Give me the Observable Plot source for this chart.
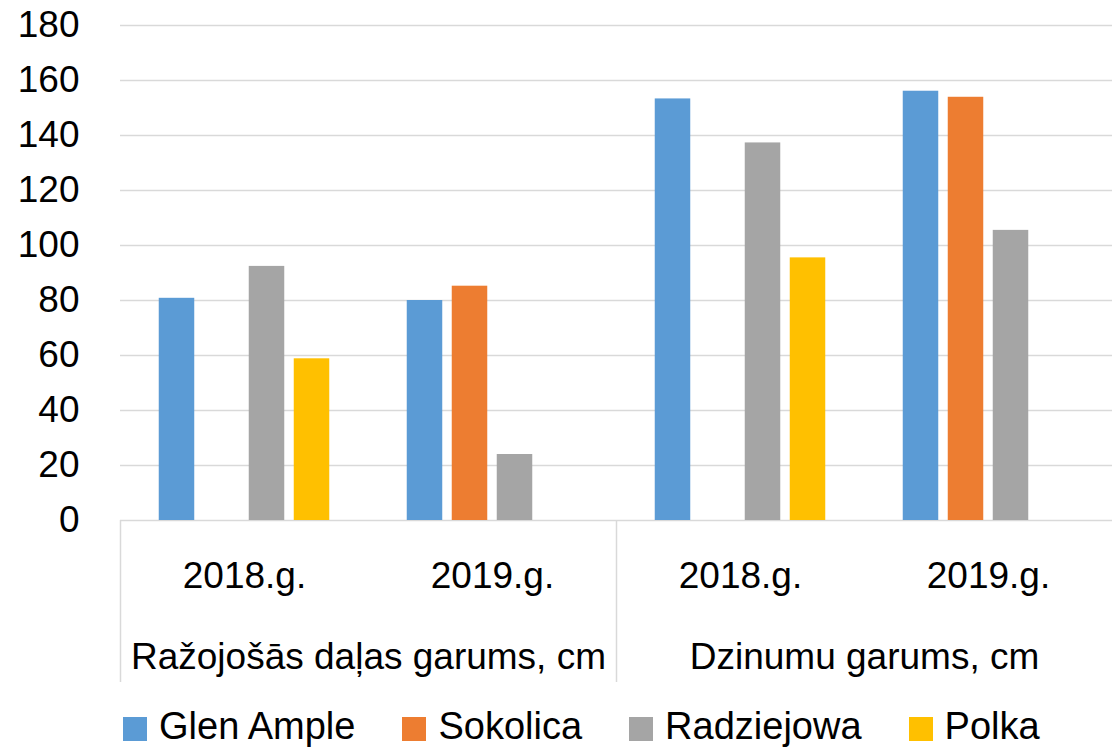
<!DOCTYPE html>
<html><head><meta charset="utf-8">
<script src="https://cdn.jsdelivr.net/npm/d3@7"></script>
<script src="https://cdn.jsdelivr.net/npm/@observablehq/plot@0.6"></script>
<style>
body{margin:0;background:#fff;font-family:"Liberation Sans",Arial,sans-serif;}
#chart{position:relative;width:1112px;height:749px;overflow:hidden;}
#legend{position:absolute;left:123px;top:705px;display:flex;align-items:center;font-size:38px;line-height:42px;color:#000;white-space:nowrap;}
.item{display:flex;align-items:center;margin-right:47px;}
.sw{width:24px;height:24px;margin-right:12px;transform:translateY(3px);}
</style></head><body><div id="chart"></div>
<script>
const groups = ["Ražojošās daļas garums, cm", "Dzinumu garums, cm"];
const years = ["2018.g.", "2019.g."];
const series = ["Glen Ample", "Sokolica", "Radziejowa", "Polka"];
const colors = ["#5B9BD5", "#ED7D31", "#A5A5A5", "#FFC000"];
// values per category: [group1 2018, group1 2019, group2 2018, group2 2019]
const glenAmple = [80.8, 80, 153.3, 156.1];
const sokolica = [null, 85.2, null, 153.9];
const radziejowa = [92.4, 24, 137.3, 105.5];
const polka = [58.8, null, 95.5, null];
const yTicks = [0, 20, 40, 60, 80, 100, 120, 140, 160, 180];

const values = [glenAmple, sokolica, radziejowa, polka];
const cats = groups.flatMap(g => years.map(y => g + "|" + y));
const data = [];
cats.forEach((c, i) => series.forEach((s, j) => {
  const v = values[j][i];
  if (v != null) data.push({cat: c, series: s, value: v});
}));
const catInfo = cats.map(c => ({cat: c, group: c.split("|")[0], year: c.split("|")[1]}));
const groupStarts = catInfo.filter((d, i) => i % years.length === 0);

const plot = Plot.plot({
  width: 1112, height: 700,
  marginLeft: 120, marginRight: 0, marginTop: 25, marginBottom: 180,
  style: {fontFamily: "'Liberation Sans', Arial, sans-serif", fontSize: "37px", color: "#000", background: "#fff", overflow: "visible"},
  fx: {domain: cats, padding: 0, round: false, axis: null},
  x: {domain: series, paddingInner: 0.211, paddingOuter: 0.861, round: false, axis: null},
  y: {domain: [0, 180], ticks: yTicks, tickSize: 0, tickPadding: 41, label: null},
  color: {domain: series, range: colors},
  marks: [
    Plot.ruleY(yTicks, {stroke: "#d9d9d9", strokeWidth: 1.5}),
    Plot.barY(data, {fx: "cat", x: "series", y: "value", fill: "series"}),
    Plot.ruleX(groupStarts, {fx: "cat", x: null, y1: 0, y2: 0, insetBottom: -162, dx: -124, stroke: "#d9d9d9", strokeWidth: 1.5}),
    Plot.text(catInfo, {fx: "cat", text: "year", frameAnchor: "bottom", lineAnchor: "top", dy: 41, fontSize: 37, fill: "#000"}),
    Plot.text(groupStarts, {fx: "cat", text: "group", frameAnchor: "bottom-right", textAnchor: "middle", lineAnchor: "top", dy: 122, fontSize: 37, fill: "#000"})
  ]
});
const chart = document.getElementById("chart");
chart.appendChild(plot);

const legend = document.createElement("div");
legend.id = "legend";
series.forEach((s, i) => {
  const item = document.createElement("div");
  item.className = "item";
  const sw = document.createElement("span");
  sw.className = "sw";
  sw.style.background = colors[i];
  const t = document.createElement("span");
  t.textContent = s;
  item.appendChild(sw); item.appendChild(t);
  legend.appendChild(item);
});
chart.appendChild(legend);
</script>
</body></html>
